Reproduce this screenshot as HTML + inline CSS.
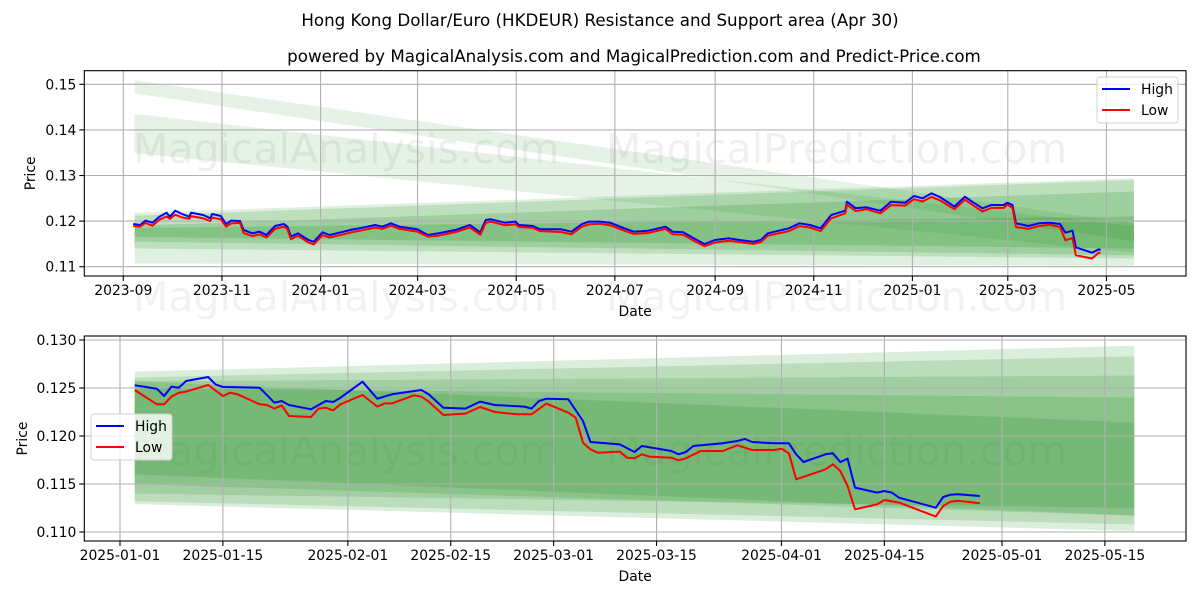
<!DOCTYPE html>
<html><head><meta charset="utf-8">
<style>
html,body{margin:0;padding:0;background:#fff;}
svg{display:block;font-family:"DejaVu Sans","Liberation Sans",sans-serif;}
</style></head>
<body>
<svg id="fig" width="1200" height="600" viewBox="0 0 1200 600" xmlns="http://www.w3.org/2000/svg">
<rect width="1200" height="600" fill="#fff"/>
<text x="600" y="26" font-size="16.7" text-anchor="middle">Hong Kong Dollar/Euro (HKDEUR) Resistance and Support area (Apr 30)</text>
<text x="634" y="62" font-size="16.7" text-anchor="middle">powered by MagicalAnalysis.com and MagicalPrediction.com and Predict-Price.com</text>
<g id="top"></g>
<g id="bot"></g>
</svg>
<script>
// ---------- top chart data (day offset from 2023-09-01) ----------
const topDays=[6.1,10.4,13.7,18.0,22.3,26.7,28.8,32.1,36.4,40.8,41.9,49.5,53.8,54.9,60.3,63.6,66.8,72.2,74.4,79.8,84.2,88.5,93.9,99.3,101.5,103.7,108.0,114.5,117.8,123.2,127.5,136.2,140.6,149.2,155.7,160.1,165.5,170.9,181.8,188.3,194.8,205.6,214.3,220.8,224.1,227.3,236.0,242.5,244.7,253.4,257.7,270.7,277.2,283.7,288.1,294.6,301.1,309.8,315.8,
324.5,335.4,339.8,346.3,352.8,359.4,365.9,374.6,381.1,389.8,394.2,398.6,411.6,418.2,424.7,431.2,437.8,446.5,447.5,453.0,459.5,468.2,474.8,483.5,488.9,494.4,499.8,505.3,514.0,520.5,524.9,531.4,536.8,544.5,546.6,549.9,552.1,559.7,566.2,572.8,579.3,582.6,587.0,589.1,599.1,603.3,604.4];
const topHigh=[0.11936,0.11914,0.12010,0.11966,0.12097,0.12185,0.12097,0.12229,0.12156,0.12097,0.12185,0.12134,0.12061,0.12156,0.12112,0.11936,0.12010,0.12003,0.11806,0.11732,0.11768,0.11695,0.11893,0.11936,0.11878,0.11659,0.11732,0.11586,0.11549,0.11754,0.11695,0.11768,0.11806,0.11864,0.11914,0.11878,0.11951,0.11878,0.11820,0.11695,0.11732,0.11806,0.11914,0.11754,0.12024,0.12039,0.11966,0.11988,0.11914,0.11893,0.11820,0.11820,0.11768,0.11936,0.11988,0.11988,0.11966,0.11842,0.11768,
0.11790,0.11878,0.11768,0.11754,0.11622,0.11498,0.11586,0.11622,0.11586,0.11549,0.11586,0.11732,0.11842,0.11951,0.11914,0.11842,0.12134,0.12229,0.12426,0.12280,0.12302,0.12229,0.12426,0.12404,0.12551,0.12500,0.12610,0.12522,0.12317,0.12536,0.12426,0.12280,0.12353,0.12353,0.12404,0.12353,0.11951,0.11893,0.11951,0.11966,0.11936,0.11746,0.11790,0.11425,0.11308,0.11381,0.11367];
const topLow=[0.1189,0.1188,0.1196,0.1190,0.1203,0.1210,0.1205,0.1214,0.1208,0.1205,0.1211,0.1206,0.1200,0.1208,0.1204,0.1188,0.1195,0.1196,0.1174,0.1167,0.1171,0.1164,0.1183,0.1188,0.1182,0.1160,0.1168,0.1153,0.1149,0.1169,0.1164,0.1171,0.1175,0.1181,0.1186,0.1183,0.1190,0.1183,0.1177,0.1166,0.1168,0.1176,0.1186,0.1170,0.1196,0.1199,0.1191,0.1193,0.1187,0.1185,0.1178,0.1176,0.1171,0.1188,0.1193,0.1194,0.1191,0.1179,0.1172,
0.1174,0.1183,0.1171,0.1170,0.1157,0.1145,0.1153,0.1157,0.1154,0.1150,0.1154,0.1168,0.1178,0.1189,0.1186,0.1178,0.1206,0.1217,0.1236,0.1222,0.1226,0.1217,0.1235,0.1234,0.1248,0.1243,0.1253,0.1245,0.1226,0.1247,0.1236,0.1221,0.1229,0.1229,0.1236,0.1229,0.1187,0.1183,0.1189,0.1192,0.1187,0.1158,0.1163,0.1125,0.1118,0.1131,0.1130];
const topBandStart=7, topBandEnd=625;
const topBandsStartTop=[0.1509,0.1435,0.1218,0.1212,0.1190,0.1185];
const topBandsStartBot=[0.1480,0.1349,0.1107,0.1140,0.1155,0.1165];
const topBandsEndTop=[0.1195,0.1189,0.1294,0.1290,0.1265,0.1210];
const topBandsEndBot=[0.1156,0.1131,0.1102,0.1118,0.1125,0.1140];
const topYTicks=[0.11,0.12,0.13,0.14,0.15];
const topYLabels=["0.11","0.12","0.13","0.14","0.15"];
const topXTicks=[0,61,122,182,243,304,366,427,488,547,608];
const topXLabels=["2023-09","2023-11","2024-01","2024-03","2024-05","2024-07","2024-09","2024-11","2025-01","2025-03","2025-05"];

// ---------- bottom chart data (day offset from 2025-01-01) ----------
const botHighDays=[2,5,6,7,8,9,12,13,14,19,21,22,23,26,28,29,30,33,35,37,41,42,44,47,49,51,55,56,57,58,61,63,64,68,70,71,75,76,77,78,82,84,85,86,89,91,92,93,96,97,98,99,100,103,104,105,106,111,112,113,114,117];
const botHigh=[0.12528,0.12493,0.12417,0.12514,0.12503,0.12573,0.12615,0.12538,0.1251,0.12503,0.12347,0.12365,0.12323,0.12278,0.12365,0.12354,0.12399,0.12566,0.12389,0.12434,0.12479,0.12434,0.12295,0.12285,0.12358,0.12323,0.12306,0.12285,0.12365,0.12389,0.12382,0.12156,0.11938,0.11913,0.11833,0.11896,0.11844,0.11809,0.11833,0.11896,0.11924,0.11948,0.1197,0.11938,0.11924,0.11924,0.11809,0.11729,0.11809,0.1182,0.11729,0.11764,0.11462,0.1141,0.11427,0.1141,0.11357,0.11253,0.11365,0.11389,0.11393,0.11375];
const botLowDays=[2,5,6,7,8,9,12,14,15,16,19,20,21,22,23,26,27,28,29,30,33,35,36,37,40,41,42,44,47,49,51,54,56,58,61,62,63,64,65,68,69,70,71,72,75,76,77,79,82,84,86,89,90,91,92,96,97,98,99,100,103,104,106,111,112,113,114,117];
const botLow=[0.12479,0.1233,0.1233,0.1241,0.12451,0.12462,0.12531,0.12417,0.12451,0.12434,0.1233,0.12323,0.12285,0.12319,0.12208,0.12198,0.12285,0.12295,0.12267,0.1233,0.12427,0.12306,0.1234,0.1234,0.12424,0.1241,0.12358,0.12219,0.12233,0.12302,0.1225,0.12226,0.12226,0.12337,0.12243,0.12191,0.1193,0.11861,0.11826,0.11837,0.11774,0.11768,0.11809,0.11785,0.11774,0.11747,0.11768,0.11844,0.11844,0.11903,0.11854,0.11854,0.11868,0.1182,0.11549,0.11653,0.11705,0.11635,0.11479,0.11236,0.11288,0.11333,0.11306,0.1116,0.11271,0.11316,0.11326,0.11299];
const botBandStart=2, botBandEnd=138;
const botBandsStartTop=[0.1267,0.1261,0.1257,0.1257,0.1250];
const botBandsStartBot=[0.1129,0.1132,0.1150,0.1160,0.1140];
const botBandsEndTop=[0.1294,0.1283,0.1263,0.1214,0.1240];
const botBandsEndBot=[0.1101,0.1108,0.1117,0.1117,0.1125];
const botYTicks=[0.110,0.115,0.120,0.125,0.130];
const botYLabels=["0.110","0.115","0.120","0.125","0.130"];
const botXTicks=[0,14,31,45,59,73,90,104,120,134];
const botXLabels=["2025-01-01","2025-01-15","2025-02-01","2025-02-15","2025-03-01","2025-03-15","2025-04-01","2025-04-15","2025-05-01","2025-05-15"];

const NS="http://www.w3.org/2000/svg";
function mk(parent,tag,attrs,text){const e=document.createElementNS(NS,tag);for(const k in attrs)e.setAttribute(k,attrs[k]);if(text!==undefined)e.textContent=text;parent.appendChild(e);return e;}

function drawChart(g,cfg){
  const {L,T,R,B,x,y}=cfg;
  const wm1=mk(g,'text',{x:cfg.wmX1,y:cfg.wmY,'font-size':41,fill:'rgba(128,128,128,0.12)'},'MagicalAnalysis.com');
  
  
  const wm2=mk(g,'text',{x:cfg.wmX2,y:cfg.wmY,'font-size':41,fill:'rgba(128,128,128,0.12)'},'MagicalPrediction.com');
  
  
  for(let i=0;i<cfg.bst.length;i++){
    const x0=x(cfg.bs),x1=x(cfg.be);
    const p=mk(g,'polygon',{points:`${x0},${y(cfg.bst[i])} ${x1},${y(cfg.bet[i])} ${x1},${y(cfg.beb[i])} ${x0},${y(cfg.bsb[i])}`,fill:'#008000','fill-opacity':cfg.alpha[i]});
    
    
  }
  cfg.xt.forEach((d,i)=>{
    const X=x(d);
    const gl=mk(g,'line',{x1:X,x2:X,y1:T,y2:B,stroke:'#b0b0b0','stroke-width':1.1});
    
    
    mk(g,'line',{x1:X,x2:X,y1:B,y2:B+5,stroke:'#000','stroke-width':1.1});
    const t=mk(g,'text',{x:X,y:B+19,'font-size':13.9,'text-anchor':'middle'},cfg.xl[i]);
    
    
  });
  cfg.yt.forEach((v,i)=>{
    const Y=y(v);
    const gl=mk(g,'line',{x1:L,x2:R,y1:Y,y2:Y,stroke:'#b0b0b0','stroke-width':1.1});
    
    
    mk(g,'line',{x1:L-5,x2:L,y1:Y,y2:Y,stroke:'#000','stroke-width':1.1});
    const t=mk(g,'text',{x:L-8,y:Y+5,'font-size':13.9,'text-anchor':'end'},cfg.yl[i]);
    
    
  });
  const hp=cfg.hd.map((d,i)=>x(d).toFixed(1)+','+y(cfg.hv[i]).toFixed(1)).join(' ');
  const lp=cfg.ld.map((d,i)=>x(d).toFixed(1)+','+y(cfg.lv[i]).toFixed(1)).join(' ');
  const hl=mk(g,'polyline',{points:hp,fill:'none',stroke:'#0000ff','stroke-width':2,'stroke-linejoin':'round'});
  
  
  const ll=mk(g,'polyline',{points:lp,fill:'none',stroke:'#ff0000','stroke-width':2,'stroke-linejoin':'round'});
  
  
  const fr=mk(g,'rect',{x:L,y:T,width:R-L,height:B-T,fill:'none',stroke:'#000','stroke-width':1.1});
  
  
  const xt=mk(g,'text',{x:(L+R)/2,y:B+40,'font-size':13.9,'text-anchor':'middle'},'Date');
  
  
  const yc=(T+B)/2;
  const yt=mk(g,'text',{x:cfg.ytX,y:yc,'font-size':13.9,'text-anchor':'middle',transform:`rotate(-90 ${cfg.ytX} ${yc})`},'Price');
  
  
  const lg=mk(g,'g',{});
  
  
  const lx=cfg.lgX,ly=cfg.lgY;
  mk(lg,'rect',{x:lx,y:ly,width:81,height:46,rx:3,fill:'rgba(255,255,255,0.8)',stroke:'#d0d0d0','stroke-width':1});
  const e1=mk(lg,'g',{});
  
  
  mk(e1,'line',{x1:lx+5,x2:lx+33,y1:ly+12,y2:ly+12,stroke:'#0000ff','stroke-width':2});
  mk(e1,'text',{x:lx+44,y:ly+17,'font-size':13.9},'High');
  const e2=mk(lg,'g',{});
  
  
  mk(e2,'line',{x1:lx+5,x2:lx+33,y1:ly+33,y2:ly+33,stroke:'#ff0000','stroke-width':2});
  mk(e2,'text',{x:lx+44,y:ly+38,'font-size':13.9},'Low');
}

drawChart(document.getElementById('top'),{
  L:84.3,T:70.7,R:1186,B:276,
  x:d=>123.3+d*1.617, y:v=>84.3+(0.15-v)*4560,
  bs:topBandStart,be:topBandEnd,bst:topBandsStartTop,bsb:topBandsStartBot,bet:topBandsEndTop,beb:topBandsEndBot,
  alpha:[0.1,0.1,0.12,0.15,0.17,0.17],
  xt:topXTicks,xl:topXLabels,yt:topYTicks,yl:topYLabels,
  hd:topDays,hv:topHigh,ld:topDays,lv:topLow,
  ytX:35,lgX:1097,lgY:77,wmX1:133,wmX2:606,wmY:163
});
drawChart(document.getElementById('bot'),{
  L:84.3,T:336,R:1186,B:541,
  x:d=>120+d*7.35, y:v=>532-(v-0.110)*9600,
  bs:botBandStart,be:botBandEnd,bst:botBandsStartTop,bsb:botBandsStartBot,bet:botBandsEndTop,beb:botBandsEndBot,
  alpha:[0.14,0.14,0.14,0.14,0.14],
  xt:botXTicks,xl:botXLabels,yt:botYTicks,yl:botYLabels,
  hd:botHighDays,hv:botHigh,ld:botLowDays,lv:botLow,
  ytX:27,lgX:91,lgY:414,wmX1:133,wmX2:606,wmY:465
});
const fig=document.getElementById('fig');
const w3=mk(fig,'text',{x:133,y:311,'font-size':41,fill:'rgba(128,128,128,0.10)'},'MagicalAnalysis.com');


const w4=mk(fig,'text',{x:606,y:311,'font-size':41,fill:'rgba(128,128,128,0.10)'},'MagicalPrediction.com');


</script>
</body></html>
